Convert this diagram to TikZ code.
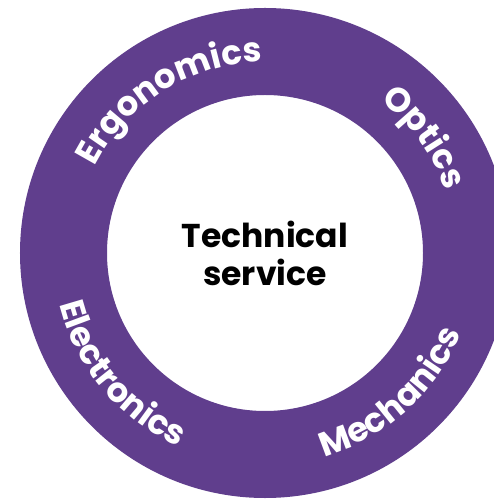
\documentclass[tikz,border=0pt]{standalone}
\usepackage{fontspec}
\setmainfont{Poppins}
\usepackage{xcolor}
\usepackage{tikz}
\usetikzlibrary{decorations.text}
\definecolor{ringpurple}{RGB}{96,62,141}
\newcommand{\ringfont}{\color{white}\bfseries\fontsize{34}{34}\selectfont}

\begin{document}
\begin{tikzpicture}[
    ring/.style={fill=ringpurple, even odd rule},
    hub/.style={align=center, font=\bfseries\fontsize{33}{38}\selectfont, text=black},
    outlabel/.style={decorate, decoration={text along path, text align=center,
        text={|\ringfont|#1}}},
    inlabel/.style={decorate, decoration={text along path, text align=center,
        text={|\ringfont|#1}}}
]
\useasboundingbox (-265pt,-247pt) rectangle (228pt,253pt);
\fill[ring] (0,0) circle[radius=245pt] (0,0) circle[radius=158pt];
\node[hub] (hub) at (0pt,0pt) {Technical\\service};

\path[outlabel=Ergonomics] (167:191pt) arc[start angle=167, end angle=77, radius=191pt];
\path[outlabel=Optics]     (81:191pt)  arc[start angle=81,  end angle=-9, radius=191pt];
\path[inlabel=Electronics] (170:212pt) arc[start angle=170, end angle=270, radius=212pt];
\path[inlabel=Mechanics]   (262:212pt) arc[start angle=262, end angle=362, radius=212pt];
\end{tikzpicture}
\end{document}
